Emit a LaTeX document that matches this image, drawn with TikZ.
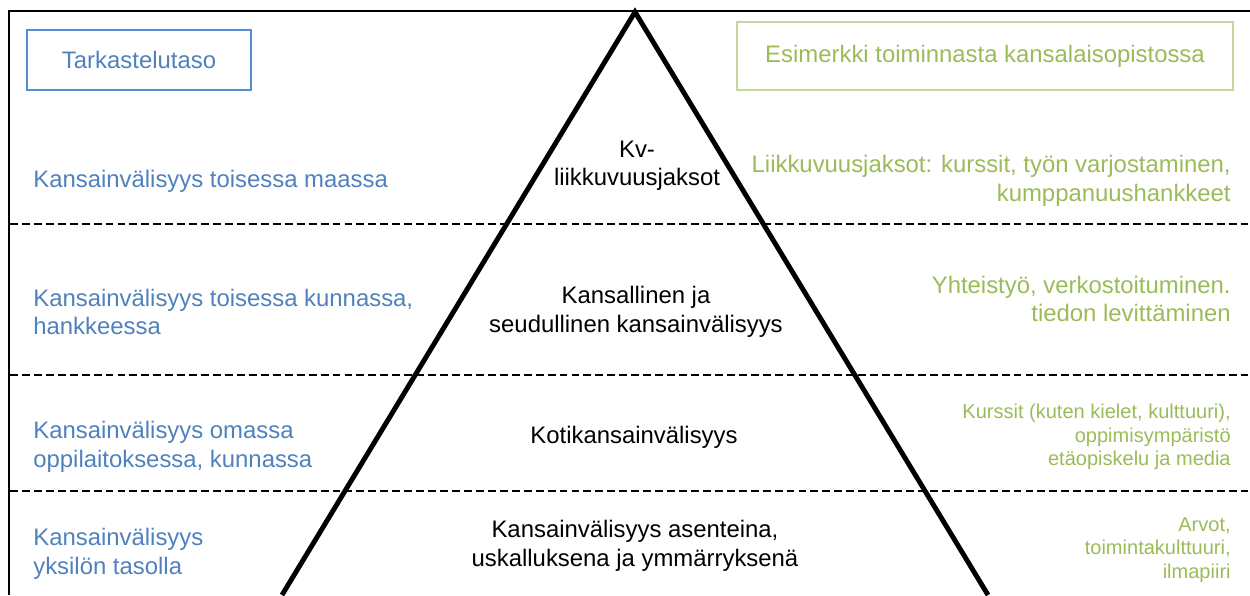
\documentclass[tikz,border=0pt]{standalone}
\usepackage{fontspec}
\setmainfont{Liberation Sans}
\usepackage{tikz}
\usetikzlibrary{positioning}

\definecolor{levelblue}{HTML}{4F81BD}
\definecolor{boxblue}{HTML}{558ED5}
\definecolor{examplegreen}{HTML}{9BBB59}
\definecolor{boxgreen}{HTML}{C3D69B}

\begin{document}
\begin{tikzpicture}[x=0.02cm,y=-0.02cm,
  bigtext/.style={font=\fontsize{13.6}{16.2}\selectfont,inner sep=0pt},
  smalltext/.style={font=\fontsize{11.4}{13.4}\selectfont,inner sep=0pt},
  leveltext/.style={bigtext,anchor=west,align=left,text=levelblue},
  centertext/.style={bigtext,align=center},
  exampletext/.style={anchor=east,align=right,text=examplegreen},
  layerline/.style={line width=1.1pt,dash pattern=on 4.5pt off 2.3pt}]
  \useasboundingbox (0,0) rectangle (1250,595);

  % frame
  \coordinate (frametl) at (9,11);
  \coordinate (frametr) at (1250,11);
  \coordinate (framebl) at (9,595);
  \draw[line width=1.6pt] (framebl) -- (frametl) -- (frametr);

  % heading boxes
  \node at (139,60) [bigtext,draw=boxblue,line width=1pt,text=levelblue,minimum height=1.2cm,minimum width=4.48cm] (levelhead) {
    Tarkastelutaso
  };

  \node at (985,56) [bigtext,draw=boxgreen,line width=1pt,text=examplegreen,minimum height=1.36cm,minimum width=9.92cm] (examplehead) {
    Esimerkki toiminnasta kansalaisopistossa
  };

  % dashed layer borders
  \foreach \y/\name in {224/one,375/two,491/three} {
    \coordinate (\name l) at (10,\y);
    \coordinate (\name r) at (1250,\y);
    \draw[layerline] (\name l) -- (\name r);
  }

  % pyramid
  \coordinate (apex) at (635,12);
  \coordinate (baseleft) at (282,595);
  \coordinate (baseright) at (988,595);
  \draw[line width=2.8pt,line join=miter] (baseleft) -- (apex) -- (baseright);

  % levels (left)
  \node at (33,181) [leveltext] (levelone) {Kansainvälisyys toisessa maassa};
  \node at (33,312) [leveltext] (leveltwo) {Kansainvälisyys toisessa kunnassa,\\hankkeessa};
  \node at (33,447) [leveltext] (levelthree) {Kansainvälisyys omassa\\oppilaitoksessa, kunnassa};
  \node at (33,554) [leveltext] (levelfour) {Kansainvälisyys\\yksilön tasolla};

  % pyramid layers
  \node at (637,166) [centertext] (mobility) {Kv-\\liikkuvuusjaksot};
  \node at (636,312) [centertext] (national) {Kansallinen ja\\seudullinen kansainvälisyys};
  \node at (634,437) [centertext] (home) {Kotikansainvälisyys};
  \node at (635,546) [centertext] (attitude) {Kansainvälisyys asenteina,\\uskalluksena ja ymmärryksenä};

  % examples (right)
  \node at (1231,181) [bigtext,exampletext] (exone) {Liikkuvuusjaksot: kurssit, työn varjostaminen,\\kumppanuushankkeet};
  \node at (1231,299) [bigtext,exampletext] (extwo) {Yhteistyö, verkostoituminen.\\tiedon levittäminen};
  \node at (1231,437) [smalltext,exampletext] (exthree) {Kurssit (kuten kielet, kulttuuri),\\oppimisympäristö\\etäopiskelu ja media};
  \node at (1231,550) [smalltext,exampletext] (exfour) {Arvot,\\toimintakulttuuri,\\ilmapiiri};
\end{tikzpicture}
\end{document}
